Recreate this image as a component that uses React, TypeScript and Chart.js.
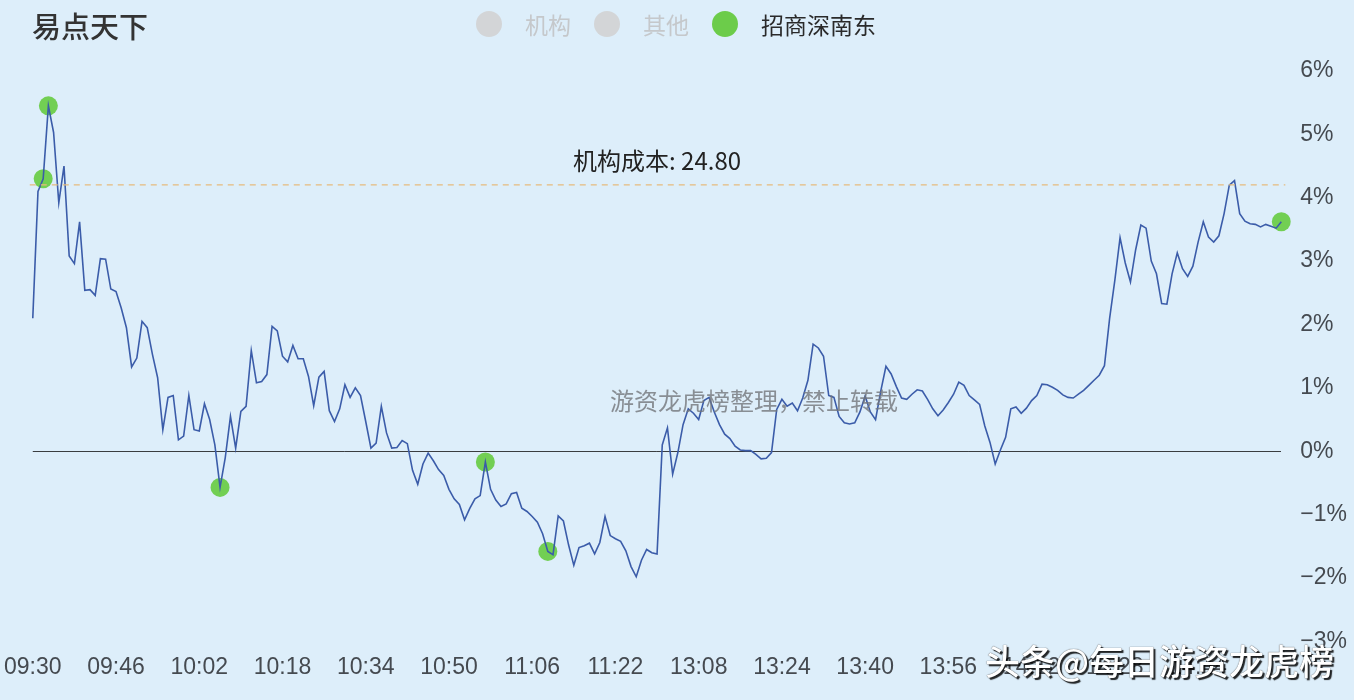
import React, { useEffect, useRef } from 'react';
import { Chart, registerables } from 'chart.js';

Chart.register(...registerables);

// 涨跌幅 (%) — 09:30 … 11:30 (index 0 … 120)
const morningPct = [
  2.10, 4.10, 4.30, 5.45, 5.03, 3.92, 4.50, 3.08, 2.96, 3.62,
  2.54, 2.55, 2.46, 3.04, 3.03, 2.56, 2.52, 2.26, 1.95, 1.33,
  1.47, 2.05, 1.95, 1.53, 1.16, 0.34, 0.85, 0.88, 0.18, 0.24,
  0.88, 0.34, 0.32, 0.75, 0.50, 0.10, -0.57, -0.10, 0.55, 0.05,
  0.63, 0.71, 1.59, 1.08, 1.10, 1.21, 1.97, 1.90, 1.50, 1.41,
  1.67, 1.46, 1.46, 1.18, 0.72, 1.17, 1.26, 0.64, 0.47, 0.67,
  1.05, 0.85, 1.00, 0.88, 0.47, 0.05, 0.13, 0.71, 0.29, 0.05,
  0.06, 0.17, 0.12, -0.30, -0.52, -0.20, -0.03, -0.15, -0.29, -0.38,
  -0.60, -0.75, -0.84, -1.08, -0.90, -0.75, -0.70, -0.17, -0.60, -0.77,
  -0.87, -0.83, -0.67, -0.65, -0.90, -0.95, -1.03, -1.12, -1.30, -1.58,
  -1.63, -1.02, -1.10, -1.48, -1.80, -1.52, -1.49, -1.45, -1.62, -1.44,
  -1.03, -1.33, -1.38, -1.42, -1.57, -1.82, -1.98, -1.72, -1.55, -1.60,
  -1.62,
];

// 涨跌幅 (%) — 13:01 … 15:00 (index 121 … 240)
const afternoonPct = [
  0.10, 0.37, -0.36, -0.02, 0.42, 0.67, 0.60, 0.50, 0.80,
  0.85, 0.62, 0.42, 0.27, 0.20, 0.08, 0.02, 0.01, 0.01, -0.05,
  -0.12, -0.11, -0.02, 0.66, 0.82, 0.71, 0.76, 0.64, 0.84, 1.12,
  1.69, 1.63, 1.50, 0.88, 0.85, 0.55, 0.45, 0.43, 0.45, 0.62,
  0.87, 0.62, 0.50, 0.95, 1.34, 1.22, 1.02, 0.84, 0.82, 0.90,
  0.97, 0.95, 0.82, 0.67, 0.56, 0.65, 0.77, 0.90, 1.09, 1.04,
  0.88, 0.81, 0.74, 0.40, 0.14, -0.20, 0.02, 0.22, 0.67, 0.70,
  0.60, 0.68, 0.80, 0.88, 1.06, 1.05, 1.01, 0.96, 0.89, 0.85,
  0.84, 0.90, 0.96, 1.04, 1.12, 1.20, 1.35, 2.10, 2.70, 3.37,
  2.97, 2.67, 3.18, 3.57, 3.52, 3.00, 2.80, 2.33, 2.32, 2.80,
  3.13, 2.88, 2.76, 2.92, 3.30, 3.62, 3.38, 3.30, 3.40, 3.75,
  4.20, 4.27, 3.75, 3.63, 3.59, 3.58, 3.54, 3.58, 3.55, 3.52,
  3.62,
];

const tickLabels = [
  '09:30', '09:46', '10:02', '10:18', '10:34', '10:50', '11:06', '11:22',
  '13:08', '13:24', '13:40', '13:56', '14:12', '14:28', '14:44',
];

// indexes where 招商深南东 traded
const markerIndexes = [2, 3, 36, 87, 99, 240];

const legendItems = ['机构', '其他', '招商深南东'];
const legendActive = [false, false, true];

const titleText = '易点天下';
const costPrice = 24.80;
const prevClose = 23.80;
const yMin = -3;
const yMax = 6;

const FONT = '"Liberation Sans", "Noto Sans CJK SC", sans-serif';
const CJK = '"Noto Sans CJK SC", "Liberation Sans", sans-serif';

function hhmm(total: number) {
  const h = Math.floor(total / 60);
  const m = total % 60;
  return String(h).padStart(2, '0') + ':' + String(m).padStart(2, '0');
}

const pctSeries = [...morningPct, ...afternoonPct];
const timeLabels = pctSeries.map((_, i) =>
  i <= 120 ? hhmm(9 * 60 + 30 + i) : hhmm(13 * 60 + (i - 120))
);
const costPct = (costPrice / prevClose - 1) * 100;

export default function App() {
  const canvasRef = useRef<HTMLCanvasElement | null>(null);

  useEffect(() => {
    document.body.style.margin = '0';
    const canvas = canvasRef.current;
    if (!canvas) return;

    const costPlugin = {
      id: 'costLine',
      afterDatasetsDraw(chart: any) {
        const { ctx, chartArea, scales } = chart;
        const y = scales.y.getPixelForValue(costPct);
        ctx.save();
        ctx.strokeStyle = '#e6bb7e';
        ctx.lineWidth = 1.2;
        ctx.setLineDash([6, 5]);
        ctx.beginPath();
        ctx.moveTo(chartArea.left - 3, y);
        ctx.lineTo(chartArea.right + 4, y);
        ctx.stroke();
        ctx.setLineDash([]);
        ctx.fillStyle = '#222';
        ctx.font = '24px ' + CJK;
        ctx.textAlign = 'center';
        ctx.textBaseline = 'middle';
        ctx.fillText('机构成本: ' + costPrice.toFixed(2), (chartArea.left + chartArea.right) / 2, y - 24);
        ctx.restore();
      },
    };

    const chart = new Chart(canvas, {
      type: 'line',
      data: {
        labels: timeLabels,
        datasets: [
          {
            label: '招商深南东',
            data: pctSeries,
            borderColor: '#3b5ca9',
            borderWidth: 1.6,
            pointRadius: 0,
            tension: 0,
            fill: false,
            order: 0,
          },
          {
            label: 'marks',
            data: pctSeries.map((v, i) => (markerIndexes.includes(i) ? v : null)),
            showLine: false,
            pointRadius: 9.5,
            pointHoverRadius: 9.5,
            pointBackgroundColor: 'rgba(108,204,74,0.95)',
            pointBorderWidth: 0,
            borderColor: 'rgba(0,0,0,0)',
            order: 1,
          },
        ],
      },
      options: {
        animation: false,
        responsive: false,
        devicePixelRatio: 1,
        layout: { padding: { left: 26, top: 71, right: -12, bottom: 15 } },
        plugins: {
          legend: { display: false },
          title: { display: false },
          tooltip: { enabled: false },
        },
        scales: {
          x: {
            type: 'category',
            grid: { display: false },
            border: { display: false },
            ticks: {
              autoSkip: false,
              maxRotation: 0,
              minRotation: 0,
              padding: 4,
              color: '#454a50',
              font: { size: 23, family: FONT },
              callback: (_v: any, i: number) =>
                tickLabels.includes(timeLabels[i]) ? timeLabels[i] : '',
            },
          },
          y: {
            position: 'right',
            min: yMin,
            max: yMax,
            grid: {
              drawTicks: false,
              lineWidth: 1,
              color: (c: any) => (c.tick && c.tick.value === 0 ? '#3a3d40' : 'rgba(0,0,0,0)'),
            },
            border: { display: false },
            ticks: {
              stepSize: 1,
              padding: 19,
              color: '#454a50',
              font: { size: 23, family: FONT },
              callback: (v: any) => (v < 0 ? '−' : '') + Math.abs(v) + '%',
            },
          },
        },
      },
      plugins: [costPlugin],
    });

    return () => chart.destroy();
  }, []);

  return (
    <div
      style={{
        position: 'relative',
        width: 1354,
        height: 700,
        background: '#ddeefa',
        overflow: 'hidden',
      }}
    >
      <canvas
        ref={canvasRef}
        width={1354}
        height={700}
        style={{ position: 'absolute', left: 0, top: 0, width: 1354, height: 700 }}
      />
      <div
        style={{
          position: 'absolute',
          left: 32,
          top: 6,
          fontFamily: CJK,
          fontSize: 29,
          fontWeight: 500,
          color: '#333',
          lineHeight: '38px',
        }}
      >
        {titleText}
      </div>
      <div
        style={{
          position: 'absolute',
          left: 476,
          top: 6,
          height: 36,
          display: 'flex',
          alignItems: 'center',
          fontFamily: CJK,
          fontSize: 23,
        }}
      >
        {legendItems.map((name, k) => (
          <div key={name} style={{ display: 'flex', alignItems: 'center' }}>
            <span
              style={{
                display: 'inline-block',
                width: 26,
                height: 26,
                borderRadius: 13,
                background: legendActive[k] ? '#6ccc4a' : '#d3d5d7',
                marginRight: 23,
              }}
            />
            <span
              style={{
                color: legendActive[k] ? '#2a2a2a' : '#c5c8cb',
                marginRight: 23,
              }}
            >
              {name}
            </span>
          </div>
        ))}
      </div>
      <div
        style={{
          position: 'absolute',
          left: 610,
          top: 384,
          fontFamily: CJK,
          fontSize: 24,
          color: 'rgba(115,118,122,0.8)',
          lineHeight: '32px',
          pointerEvents: 'none',
        }}
      >
        游资龙虎榜整理，禁止转载
      </div>
      <div
        style={{
          position: 'absolute',
          left: 985,
          top: 638,
          fontFamily: CJK,
          fontSize: 35,
          fontWeight: 500,
          color: '#ffffff',
          lineHeight: '44px',
          textShadow: '2px 2px 1px rgba(0,0,0,0.85), 0 0 1px rgba(0,0,0,0.9)',
          pointerEvents: 'none',
        }}
      >
        头条@每日游资龙虎榜
      </div>
    </div>
  );
}
